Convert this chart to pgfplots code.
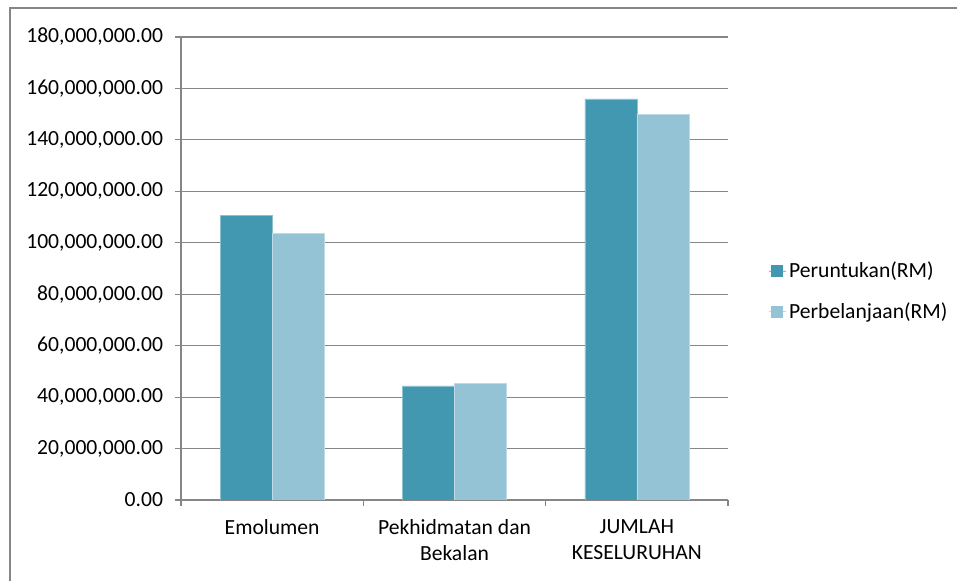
\documentclass[border=0pt]{standalone}
\usepackage{fontspec}
\setmainfont{Carlito}
\usepackage{pgfplots}
\pgfplotsset{compat=1.18}

\definecolor{peruntukan}{RGB}{66,152,176}
\definecolor{perbelanjaan}{RGB}{147,195,212}
\definecolor{gridgray}{RGB}{134,134,134}
\newcommand{\lbl}{\fontsize{16.2pt}{19.6pt}\selectfont}

\begin{document}
\begin{tikzpicture}[x=0.75pt,y=0.75pt]
    % picture frame in px (957 x 581)
    \path[use as bounding box] (0,0) rectangle (957,581);
    \draw[gridgray, line width=1.1pt] (10,0) -- (10,573) -- (957,573);
    \begin{axis}[
        at={(135.75pt,60.75pt)},
        anchor=south west,
        scale only axis,
        width=410.25pt,
        height=347.25pt,
        ybar=0pt,
        bar width=39pt,
        xmin=-0.5, xmax=2.5,
        ymin=0, ymax=180000000,
        ytick={0,20000000,40000000,60000000,80000000,100000000,120000000,140000000,160000000,180000000},
        scaled y ticks=false,
        yticklabel style={
            xshift=-5.5pt,
            /pgf/number format/fixed,
            /pgf/number format/fixed zerofill,
            /pgf/number format/precision=2,
            /pgf/number format/1000 sep={,},
            /pgf/number format/assume math mode=true,
        },
        xtick={0,1,2},
        xticklabels={Emolumen, {Pekhidmatan dan\\Bekalan}, {JUMLAH\\KESELURUHAN}},
        xticklabel style={align=center, yshift=-6.5pt},
        minor xtick={-0.5,0.5,1.5,2.5},
        major x tick style={draw=none},
        tick align=outside,
        major tick length=4.5pt,
        minor tick length=4.5pt,
        tick style={draw=gridgray, line width=0.9pt},
        axis lines*=left,
        axis line style={draw=gridgray, line width=0.9pt, -},
        ymajorgrids=true,
        major grid style={draw=gridgray, line width=0.9pt},
        ticklabel style={font=\lbl},
        legend style={
            draw=none, fill=none,
            at={(1,0.451)}, anchor=west,
            xshift=30pt,
            font=\lbl,
            row sep=13pt,
            inner sep=0pt,
        },
        legend cell align=left,
    ]
        \addplot[fill=peruntukan, draw=peruntukan!60!white, line width=0.4pt,
            legend image code/.code={\path (0pt,0pt) -- (13.25pt,0pt);
                \fill[peruntukan] (2pt,-4.1pt) rectangle (10.25pt,4.1pt);}]
            coordinates {(0,110600000) (1,44400000) (2,155900000)};
        \addplot[fill=perbelanjaan, draw=perbelanjaan!60!white, line width=0.4pt,
            legend image code/.code={\path (0pt,0pt) -- (13.25pt,0pt);
                \fill[perbelanjaan] (2pt,-4.1pt) rectangle (10.25pt,4.1pt);}]
            coordinates {(0,103600000) (1,45200000) (2,149900000)};
        \legend{Peruntukan(RM), Perbelanjaan(RM)}
    \end{axis}
\end{tikzpicture}
\end{document}
